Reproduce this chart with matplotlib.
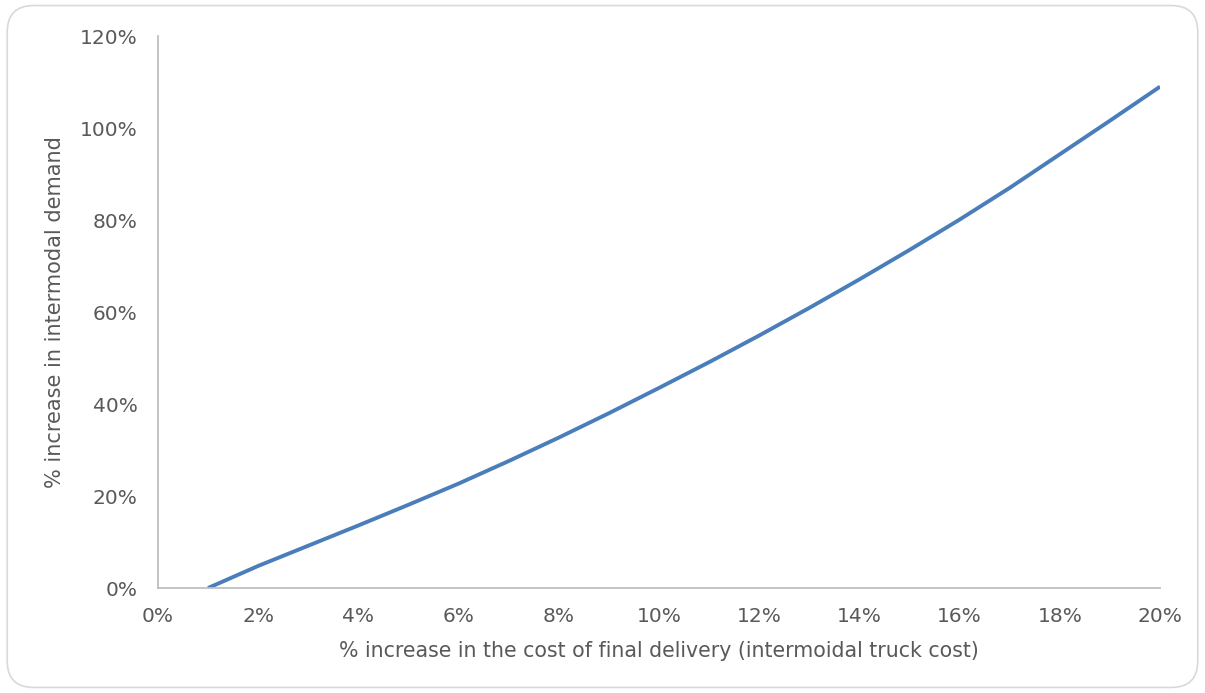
import matplotlib
matplotlib.use("Agg")
import matplotlib.pyplot as plt
from matplotlib.patches import FancyBboxPatch
from matplotlib.ticker import FuncFormatter, MultipleLocator

# cost increase of final delivery (%) vs. resulting intermodal demand increase (%)
cost_increase = [1, 2, 3, 4, 5, 6, 7, 8, 9, 10,
                 11, 12, 13, 14, 15, 16, 17, 18, 19, 20]
demand_increase = [0, 4.8, 9.2, 13.6, 18.1, 22.7, 27.6, 32.7, 38.0, 43.5,
                   49.1, 54.9, 60.9, 67.1, 73.5, 80.1, 87.0, 94.3, 101.6, 109.0]

TEXT = "#595959"
plt.rcParams["font.family"] = ["DejaVu Sans"]

fig = plt.figure(figsize=(12.05, 6.93), dpi=100)

# rounded chart-area frame
frame = FancyBboxPatch((0.006, 0.008), 0.988, 0.984,
                       boxstyle="round,pad=0,rounding_size=0.022",
                       transform=fig.transFigure, facecolor="none",
                       edgecolor="#d9d9d9", linewidth=1.2,
                       mutation_aspect=1205 / 693, zorder=5)
fig.patches.append(frame)

ax = fig.add_axes([0.1311, 0.1515, 0.8316, 0.7965])
ax.set_facecolor("none")
ax.plot(cost_increase, demand_increase, color="#4a7ebb", linewidth=2.8,
        solid_capstyle="butt")

ax.set_xlim(0, 20)
ax.set_ylim(0, 120)
ax.xaxis.set_major_locator(MultipleLocator(2))
ax.yaxis.set_major_locator(MultipleLocator(20))
pct = FuncFormatter(lambda v, _: f"{v:.0f}%")
ax.xaxis.set_major_formatter(pct)
ax.yaxis.set_major_formatter(pct)

for side in ("top", "right"):
    ax.spines[side].set_visible(False)
for side in ("left", "bottom"):
    ax.spines[side].set_color("#bfbfbf")
    ax.spines[side].set_linewidth(1.3)

ax.tick_params(length=0, labelsize=14.5, labelcolor=TEXT)
ax.tick_params(axis="x", pad=13.5)
ax.tick_params(axis="y", pad=14.5)
ax.set_xlabel("% increase in the cost of final delivery (intermoidal truck cost)",
              fontsize=14.8, color=TEXT, labelpad=11)
ax.set_ylabel("% increase in intermodal demand", fontsize=15, color=TEXT,
              labelpad=11)

fig.savefig("out.png", dpi=100)
